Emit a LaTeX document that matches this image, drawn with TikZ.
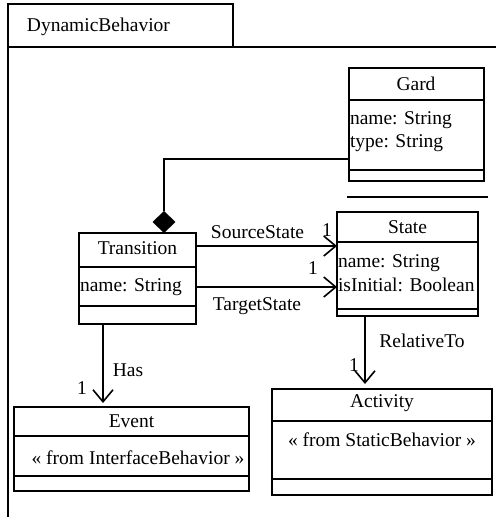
\documentclass[tikz,border=0pt]{standalone}
\usepackage{fontspec}
\setmainfont{Liberation Serif}
\usetikzlibrary{arrows.meta,shapes.geometric}
\newcommand\divl[2]{\draw ([yshift=-#2pt]#1.north west) -- ([yshift=-#2pt]#1.north east);}
\begin{document}
\begin{tikzpicture}[x=1pt,y=-1pt,line width=1.6pt,
  every node/.style={font=\fontsize{19.5}{23}\selectfont,inner sep=0pt,outer sep=0pt},
  box/.style={draw,rectangle,anchor=north west},
  assoc/.style={-{Straight Barb[length=12pt,width=20pt,line width=1.6pt]}},
  mult/.style={}]
\useasboundingbox (0,0) rectangle (496,517);
% package frame
\draw (8,517) -- (8,4) -- (233,4) -- (233,47);
\draw (8,47) -- (496,47);
\node[anchor=west] (pkg) at (27,27) {DynamicBehavior};
% Gard
\node[box,minimum width=135pt,minimum height=113pt] (gard) at (349,68) {};
\divl{gard}{32}\divl{gard}{102}
\node (gardt) at (416,84) {Gard};
\node[anchor=west] (garda1) at (350,120) {name: String};
\node[anchor=west] (garda2) at (350,143) {type: String};
\draw (347,197) -- (488,197);
% Transition
\node[box,minimum width=117pt,minimum height=91pt] (tr) at (79,233) {};
\divl{tr}{34}\divl{tr}{73}
\node (trt) at (137.5,248) {Transition};
\node[anchor=west] (tra1) at (80,287) {name: String};
% State
\node[box,minimum width=141pt,minimum height=104pt] (st) at (337,212) {};
\divl{st}{30}\divl{st}{97}
\node (stt) at (407.5,227) {State};
\node[anchor=west] (sta1) at (338,263) {name: String};
\node[anchor=west] (sta2) at (338,285) {isInitial: Boolean};
% Event
\node[box,minimum width=235pt,minimum height=84pt] (ev) at (14,407) {};
\divl{ev}{29}\divl{ev}{69}
\node (evt) at (131.5,421) {Event};
\node (eva) at (138,458) {« from InterfaceBehavior »};
% Activity
\node[box,minimum width=220pt,minimum height=106pt] (act) at (272,389) {};
\divl{act}{32}\divl{act}{90}
\node (actt) at (382,403) {Activity};
\node (acta) at (382,440) {« from StaticBehavior »};
% composition Gard - Transition
\node[diamond,fill=black,draw=none,minimum width=23pt,minimum height=22pt,anchor=south] (dia) at (164,233) {};
\coordinate (gk) at (349,159);
\draw (gk) -| (dia.north);
% SourceState / TargetState
\coordinate (sy) at (0,246);
\coordinate (ty) at (0,287);
\draw[assoc] (tr.east |- sy) -- (st.west |- sy);
\draw[assoc] (tr.east |- ty) -- (st.west |- ty);
\node (ls) at (257.5,232) {SourceState};
\node (lsm) at (327,230) {1};
\node (lt) at (257,306) {TargetState};
\node (ltm) at (313,268) {1};
% Has
\coordinate (hx) at (103,0);
\draw[assoc,shorten >=4pt] (tr.south -| hx) -- (ev.north -| hx);
\node (lh) at (128,370) {Has};
\node (lhm) at (82,388) {1};
% RelativeTo
\coordinate (rx) at (365,0);
\draw[assoc,shorten >=5pt] (st.south -| rx) -- (act.north -| rx);
\node (lr) at (422,341) {RelativeTo};
\node (lrm) at (354,365) {1};
\end{tikzpicture}
\end{document}
